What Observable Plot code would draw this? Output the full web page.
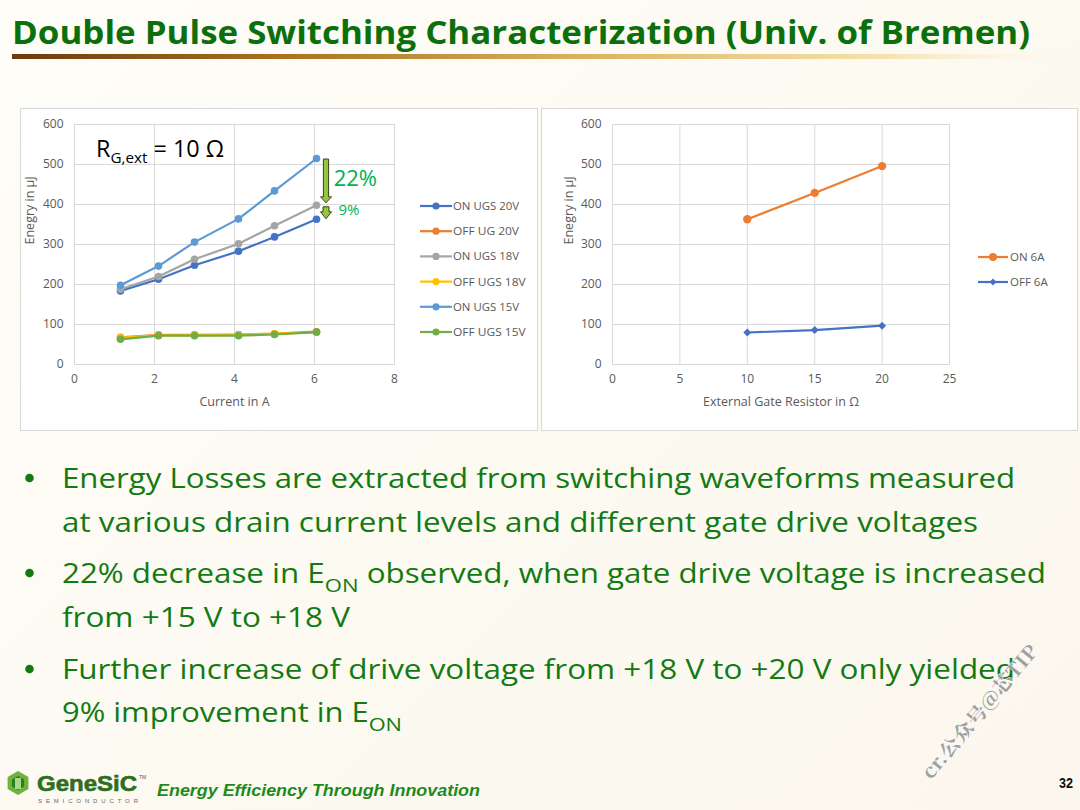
<!DOCTYPE html>
<html><head><meta charset="utf-8">
<script src="https://cdn.jsdelivr.net/npm/d3@7"></script>
<script src="https://cdn.jsdelivr.net/npm/@observablehq/plot@0.6"></script>
<style>
html,body{margin:0;padding:0;}
body{width:1080px;height:810px;overflow:hidden;position:relative;font-family:"Open Sans",sans-serif;
  background:linear-gradient(135deg,#fefdf8 0%,#fcf9f0 60%,#fbf7ee 100%);}
.panel{position:absolute;background:#fff;border:1px solid #d9d9d9;box-sizing:border-box;}
#left{left:20px;top:108px;width:518px;height:323px;}
#right{left:541px;top:108px;width:537px;height:323px;}
.panel svg{position:absolute;left:0;top:0;}
#bg,#overlay{position:absolute;left:0;top:0;}
</style></head><body>
<svg id="bg" width="1080" height="810"></svg>
<div class="panel" id="left"></div>
<div class="panel" id="right"></div>
<svg id="overlay" width="1080" height="810"></svg>
<script>
// ---------- data ----------
const currentA = [1.15, 2.1, 3.0, 4.1, 5.0, 6.05];
const seriesNames = ["ON UGS 20V", "OFF UG 20V", "ON UGS 18V", "OFF UGS 18V", "ON UGS 15V", "OFF UGS 15V"];
const seriesColors = ["#4472C4", "#ED7D31", "#A5A5A5", "#FFC000", "#5B9BD5", "#70AD47"];
const onUgs20 = [184, 213, 248, 283, 319, 363];
const offUg20 = [68, 74, 74, 75, 77, 82];
const onUgs18 = [188, 220, 263, 302, 347, 398];
const offUgs18 = [67, 73, 73, 74, 77, 80];
const onUgs15 = [198, 246, 306, 364, 434, 515];
const offUgs15 = [63, 72, 72, 72, 75, 81];
const energyTicks = [0, 100, 200, 300, 400, 500, 600];
const currentTicks = [0, 2, 4, 6, 8];

const gateR = [10, 15, 20];
const rSeriesNames = ["ON 6A", "OFF 6A"];
const rSeriesColors = ["#ED7D31", "#4472C4"];
const on6A = [363, 429, 496];
const off6A = [80, 86, 97];
const gateTicks = [0, 5, 10, 15, 20, 25];

const annotLabels = ["22%", "9%"];
const titleText = "Double Pulse Switching Characterization (Univ. of Bremen)";

// ---------- tables ----------
const seriesValues = [onUgs20, offUg20, onUgs18, offUgs18, onUgs15, offUgs15];
const leftRows = seriesNames.flatMap((s, i) => currentA.map((x, j) => ({series: s, x, y: seriesValues[i][j]})));
const rValues = [on6A, off6A];
const rightRows = rSeriesNames.flatMap((s, i) => gateR.map((x, j) => ({series: s, x, y: rValues[i][j]})));

const axisStyle = {fontFamily: "Open Sans", fontSize: "12px", color: "#595959", background: "transparent", overflow: "visible"};
const gridMarks = () => [
  Plot.gridX({stroke: "#d9d9d9", strokeOpacity: 1, strokeWidth: 1}),
  Plot.gridY({stroke: "#d9d9d9", strokeOpacity: 1, strokeWidth: 1}),
  Plot.frame({stroke: "#d9d9d9", strokeWidth: 1})
];

// block arrows between series end values (annotation), drawn with the plot's scales
function dropArrows(xv, pairs) {
  return (index, scales) => {
    const g = d3.create("svg:g");
    const px = scales.x(xv);
    pairs.forEach(([from, to, sw, hw, hl, inset0, inset1]) => {
      const y0 = scales.y(from) + inset0, yt = scales.y(to) - inset1, yh = yt - hl;
      const p = `M${px - sw},${y0}L${px + sw},${y0}L${px + sw},${yh}L${px + hw},${yh}L${px},${yt}L${px - hw},${yh}L${px - sw},${yh}Z`;
      g.append("path").attr("d", p).attr("fill", "#92C83E").attr("stroke", "#3d3d1f").attr("stroke-width", 1);
    });
    return g.node();
  };
}

// ---------- left chart ----------
const leftPlot = Plot.plot({
  width: 516, height: 321, marginLeft: 53, marginRight: 143, marginTop: 15, marginBottom: 66,
  style: axisStyle,
  x: {domain: [0, 8], ticks: currentTicks, label: null},
  y: {domain: [0, 600], ticks: energyTicks, label: null},
  color: {domain: seriesNames, range: seriesColors},
  marks: [
    ...gridMarks(),
    Plot.axisX({ticks: currentTicks, tickSize: 0, tickPadding: 10, label: null, fill: "#595959", fontSize: 12}),
    Plot.axisY({ticks: energyTicks, tickSize: 0, tickPadding: 11, label: null, fill: "#595959", fontSize: 12}),
    ...seriesNames.flatMap(s => {
      const rows = leftRows.filter(d => d.series === s);
      return [
        Plot.line(rows, {x: "x", y: "y", stroke: "series", strokeWidth: 2.2}),
        Plot.dot(rows, {x: "x", y: "y", fill: "series", r: 3.8})
      ];
    }),
    dropArrows(6.3, [
      [onUgs15[5], onUgs18[5], 2.6, 5.5, 6, 1, 2],
      [onUgs18[5], onUgs20[5], 3, 5.5, 7, 2, 0]
    ]),
    Plot.text([annotLabels[0]], {x: 6.48, y: 463, text: d => d, textAnchor: "start", fontSize: 22, fill: "#00B050", fontFamily: "Open Sans"}),
    Plot.text([annotLabels[1]], {x: 6.6, y: 386, text: d => d, textAnchor: "start", fontSize: 15, fill: "#00B050", fontFamily: "Open Sans"}),
    Plot.text(["Current in A"], {frameAnchor: "bottom", dy: 41, text: d => d, fontSize: 12.5, fill: "#595959"}),
    Plot.text(["Enegry in µJ"], {frameAnchor: "left", dx: -45, rotate: -90, text: d => d, fontSize: 12.5, fill: "#595959"})
  ]
});
document.getElementById("left").appendChild(leftPlot);

// ---------- right chart ----------
const rightPlot = Plot.plot({
  width: 535, height: 321, marginLeft: 70, marginRight: 128, marginTop: 15, marginBottom: 66,
  style: axisStyle,
  x: {domain: [0, 25], ticks: gateTicks, label: null},
  y: {domain: [0, 600], ticks: energyTicks, label: null},
  color: {domain: rSeriesNames, range: rSeriesColors},
  marks: [
    ...gridMarks(),
    Plot.axisX({ticks: gateTicks, tickSize: 0, tickPadding: 10, label: null, fill: "#595959", fontSize: 12}),
    Plot.axisY({ticks: energyTicks, tickSize: 0, tickPadding: 11, label: null, fill: "#595959", fontSize: 12}),
    Plot.line(rightRows.filter(d => d.series === "ON 6A"), {x: "x", y: "y", stroke: "series", strokeWidth: 2.2}),
    Plot.dot(rightRows.filter(d => d.series === "ON 6A"), {x: "x", y: "y", fill: "series", r: 4.2}),
    Plot.line(rightRows.filter(d => d.series === "OFF 6A"), {x: "x", y: "y", stroke: "series", strokeWidth: 2.2}),
    Plot.dot(rightRows.filter(d => d.series === "OFF 6A"), {x: "x", y: "y", fill: "series", symbol: "diamond2", r: 3.6}),
    Plot.text(["External Gate Resistor in Ω"], {frameAnchor: "bottom", dy: 41, text: d => d, fontSize: 12.5, fill: "#595959"}),
    Plot.text(["Enegry in µJ"], {frameAnchor: "left", dx: -44, rotate: -90, text: d => d, fontSize: 12.5, fill: "#595959"})
  ]
});
document.getElementById("right").appendChild(rightPlot);

// ---------- background decorations ----------
const bg = d3.select("#bg");
const defs = bg.append("defs");
const grad = defs.append("linearGradient").attr("id", "bar").attr("x1", "0").attr("x2", "1");
[["0%", "#6e3a0c", 1], ["25%", "#a8701f", 1], ["55%", "#dcb461", 1], ["82%", "#f3dc9e", 0.85], ["100%", "#fbf3dc", 0]]
  .forEach(([o, c, a]) => grad.append("stop").attr("offset", o).attr("stop-color", c).attr("stop-opacity", a));
bg.append("rect").attr("x", 12).attr("y", 54).attr("width", 1055).attr("height", 5).attr("fill", "url(#bar)");

// ---------- overlay text ----------
const ov = d3.select("#overlay");
ov.append("text").attr("x", 12).attr("y", 44).attr("font-family", "Open Sans").attr("font-weight", 700)
  .attr("font-size", 33).attr("fill", "#0b700b").attr("textLength", 1018).attr("lengthAdjust", "spacingAndGlyphs")
  .text(titleText);

// R_G,ext label
const rg = ov.append("text").attr("x", 96).attr("y", 157).attr("font-family", "Open Sans").attr("fill", "#000")
  .attr("textLength", 128).attr("lengthAdjust", "spacingAndGlyphs");
rg.append("tspan").attr("font-size", 23).text("R");
rg.append("tspan").attr("font-size", 15).attr("dy", 6).text("G,ext");
rg.append("tspan").attr("font-size", 23).attr("dy", -6).text(" = 10 Ω");

// legends
const lg = ov.append("g").attr("font-family", "Open Sans").attr("font-size", 11.5).attr("fill", "#595959");
seriesNames.forEach((name, i) => {
  const y = 206 + i * 25.2;
  lg.append("line").attr("x1", 420).attr("x2", 452).attr("y1", y).attr("y2", y).attr("stroke", seriesColors[i]).attr("stroke-width", 2.2);
  lg.append("circle").attr("cx", 436).attr("cy", y).attr("r", 3.6).attr("fill", seriesColors[i]);
  lg.append("text").attr("x", 453).attr("y", y).attr("dy", "0.35em").attr("textLength", name.length * 6.6).attr("lengthAdjust", "spacingAndGlyphs").text(name);
});
rSeriesNames.forEach((name, i) => {
  const y = 257 + i * 25;
  lg.append("line").attr("x1", 978).attr("x2", 1008).attr("y1", y).attr("y2", y).attr("stroke", rSeriesColors[i]).attr("stroke-width", 2.2);
  if (i === 0) lg.append("circle").attr("cx", 993).attr("cy", y).attr("r", 4).attr("fill", rSeriesColors[i]);
  else lg.append("path").attr("d", d3.symbol(d3.symbolDiamond2, 30)()).attr("transform", `translate(993,${y})`).attr("fill", rSeriesColors[i]);
  lg.append("text").attr("x", 1010).attr("y", y).attr("dy", "0.35em").text(name);
});

// bullets
const bulletLines = [
  {b: true, y: 488, w: 953, parts: [["Energy Losses are extracted from switching waveforms measured"]]},
  {b: false, y: 532, w: 916, parts: [["at various drain current levels and different gate drive voltages"]]},
  {b: true, y: 583, w: 984, parts: [["22% decrease in E"], ["ON", "sub"], [" observed, when gate drive voltage is increased"]]},
  {b: false, y: 627, w: 288, parts: [["from +15 V to +18 V"]]},
  {b: true, y: 679, w: 953, parts: [["Further increase of drive voltage from +18 V to +20 V only yielded"]]},
  {b: false, y: 722, w: 340, parts: [["9% improvement in E"], ["ON", "sub"]]}
];
const bg2 = ov.append("g").attr("font-family", "Open Sans").attr("fill", "#137a13");
bulletLines.forEach(l => {
  if (l.b) bg2.append("circle").attr("cx", 29.5).attr("cy", l.y - 10).attr("r", 4.3);
  const t = bg2.append("text").attr("x", 62).attr("y", l.y).attr("font-size", 27)
    .attr("textLength", l.w).attr("lengthAdjust", "spacingAndGlyphs");
  let shifted = false;
  l.parts.forEach(([s, k]) => {
    const ts = t.append("tspan").text(s);
    if (k === "sub") { ts.attr("font-size", 19).attr("dy", 9); shifted = true; }
    else if (shifted) { ts.attr("dy", -9); shifted = false; }
  });
});

// footer
const ft = ov.append("g");
const hexPts = (cx, cy, r) => d3.range(6).map(k => { const a = Math.PI / 3 * k + Math.PI / 6; return [cx + r * Math.cos(a), cy + r * Math.sin(a)]; });
ft.append("path").attr("d", "M" + hexPts(18, 783, 12).join("L") + "Z").attr("fill", "#6cb33f");
ft.append("path").attr("d", "M" + hexPts(18, 783, 7).join("L") + "Z").attr("fill", "#2f7d1f");
ft.append("path").attr("d", "M15,778L21,778L21,789L15,789Z").attr("fill", "#a8d68a");
ft.append("text").attr("x", 37).attr("y", 791).attr("font-family", "Liberation Sans").attr("font-weight", 700)
  .attr("font-size", 22).attr("fill", "#2e6e1e").attr("stroke", "#2e6e1e").attr("stroke-width", 0.6)
  .attr("textLength", 100).attr("lengthAdjust", "spacingAndGlyphs").text("GeneSiC");
ft.append("text").attr("x", 139).attr("y", 779).attr("font-family", "Liberation Sans").attr("font-size", 5).attr("fill", "#555").text("TM");
ft.append("text").attr("x", 38).attr("y", 803).attr("font-family", "Liberation Sans").attr("font-size", 6)
  .attr("fill", "#666").attr("textLength", 100).attr("lengthAdjust", "spacing").text("SEMICONDUCTOR");
ft.append("text").attr("x", 157).attr("y", 796).attr("font-family", "Liberation Sans").attr("font-weight", 700)
  .attr("font-style", "italic").attr("font-size", 17).attr("fill", "#1d8a1d").attr("textLength", 323)
  .attr("lengthAdjust", "spacingAndGlyphs").text("Energy Efficiency Through Innovation");
ft.append("text").attr("x", 1059).attr("y", 788).attr("font-family", "Liberation Sans").attr("font-weight", 700)
  .attr("font-size", 15).attr("fill", "#111").attr("textLength", 14).attr("lengthAdjust", "spacingAndGlyphs").text("32");

// watermark
ov.append("text").attr("transform", "translate(985,716) rotate(-50)").attr("text-anchor", "middle")
  .attr("font-family", "Noto Serif CJK SC, DejaVu Serif, Noto Sans CJK SC").attr("font-weight", 700).attr("font-size", 19)
  .attr("fill", "#a0a0a0").attr("stroke", "#ffffff").attr("stroke-width", 0.8).attr("paint-order", "stroke")
  .attr("textLength", 168).attr("lengthAdjust", "spacingAndGlyphs").text("cr.公众号@芯TIP");
</script>
</body></html>
